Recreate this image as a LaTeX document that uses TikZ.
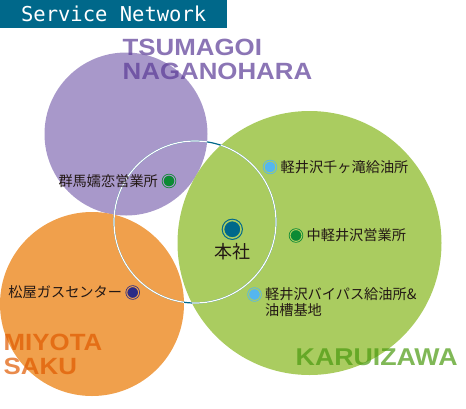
\documentclass[tikz,border=0pt]{standalone}
\usepackage{fontspec}
\usetikzlibrary{positioning}
\newfontfamily\jpfont{Noto Sans CJK JP}
\newfontfamily\headfont{DejaVu Sans Mono}
\newfontfamily\areafont[FakeStretch=1.1]{Liberation Sans Bold}
\definecolor{headteal}{RGB}{0,104,138}
\definecolor{zonepurple}{RGB}{168,152,202}
\definecolor{zonegreen}{RGB}{170,204,96}
\definecolor{zoneorange}{RGB}{240,160,76}
\definecolor{areapurple}{RGB}{90,58,150}
\definecolor{areagreen}{RGB}{74,154,16}
\definecolor{areaorange}{RGB}{224,90,0}
\definecolor{dotgreen}{RGB}{12,138,52}
\definecolor{dotblue}{RGB}{85,182,238}
\definecolor{dotnavy}{RGB}{43,42,134}
\definecolor{textdark}{RGB}{35,24,21}
\begin{document}
\begin{tikzpicture}[
  x=1pt, y=-1pt,
  area/.style={font=\areafont\fontsize{23.5}{24}\selectfont, text=#1, text opacity=0.7,
    align=left, inner sep=0pt, anchor=base west},
  site/.style 2 args={circle, inner sep=0pt, outer sep=0pt, minimum size=11.8pt,
    fill=#1, draw=#1, double=#2, double distance=1pt, line width=0.8pt},
  place/.style={font=\jpfont\fontsize{14.2}{16.7}\selectfont, text=textdark, inner sep=0pt},
  node distance=4.5pt
]
\useasboundingbox (0,0) rectangle (466,408);

% the three areas
\fill[zonepurple] (126,134) circle[radius=81.5];
\fill[zoneorange] (92,304) circle[radius=92];
\fill[zonegreen] (309.5,243) circle[radius=132];

% ring round the head office
\draw[headteal, line width=1.2pt] (195,222) circle[radius=81];
\begin{scope}
  \clip (126,134) circle[radius=81.5] (92,304) circle[radius=92] (309.5,243) circle[radius=132];
  \draw[white, line width=1.2pt] (195,222) circle[radius=81];
\end{scope}

\node[fill=headteal, text=white, font=\headfont\fontsize{20.5}{24}\selectfont,
  minimum width=227pt, minimum height=27.5pt, inner sep=0pt, anchor=north west]
  (title) at (0,0) {Service Network};

\node[area=areapurple] (tsumagoi) at (122.5,79) {TSUMAGOI\\NAGANOHARA};
\node[area=areaorange] (miyota) at (3.5,374) {MIYOTA\\SAKU};
\node[area=areagreen, font=\areafont\fontsize{24.3}{24}\selectfont] (karuizawa)
  at (295.5,365) {KARUIZAWA};

% sites
\node[site={dotgreen}{zonepurple}] (gunma) at (169,181) {};
\node[place, left=5pt of gunma] (gunmaL) {群馬嬬恋営業所};

\node[site={dotblue}{zonegreen}] (chigataki) at (270,167) {};
\node[place, right=of chigataki] (chigatakiL) {軽井沢千ヶ滝給油所};

\node[site={dotgreen}{zonegreen}] (nakakaru) at (296,235.5) {};
\node[place, right=of nakakaru] (nakakaruL) {中軽井沢営業所};

\node[site={dotblue}{zonegreen}] (bypass) at (254.5,294.5) {};
\node[place, right=of bypass] (bypassL) {軽井沢バイパス給油所\&};
\node[place, anchor=north west] (tankL) at ([yshift=-2.5pt]bypassL.south west) {油槽基地};

\node[site={dotnavy}{zoneorange}] (matsuya) at (132.7,292.5) {};
\node[place, left=of matsuya] (matsuyaL) {松屋ガスセンター};

\node[site={headteal}{zonegreen}, minimum size=17.5pt, line width=1.1pt,
  double distance=1.5pt] (honsha) at (232.3,229.3) {};
\node[place, font=\jpfont\fontsize{18}{20}\selectfont, below=5pt of honsha]
  (honshaL) {本社};

\end{tikzpicture}
\end{document}
